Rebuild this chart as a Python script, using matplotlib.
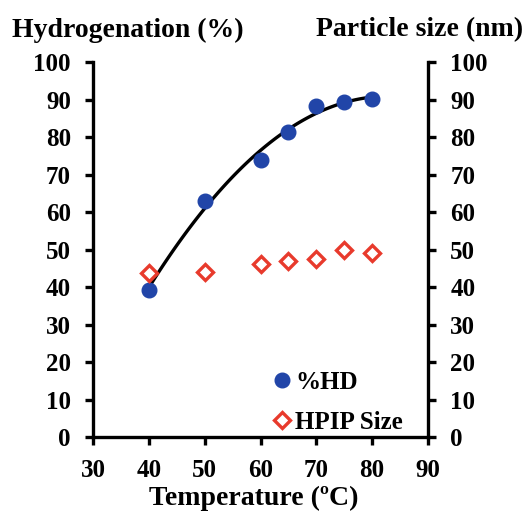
import numpy as np
import matplotlib
matplotlib.use("Agg")
import matplotlib.pyplot as plt

plt.rcParams['font.family'] = ['Liberation Serif', 'DejaVu Serif']
plt.rcParams['font.weight'] = 'bold'

# temperature (C) and measured values
temp = [40, 50, 60, 65, 70, 75, 80]
hd = [39.3, 63.0, 74.0, 81.4, 88.3, 89.3, 90.2]
size = [43.8, 44.1, 46.1, 47.0, 47.5, 49.9, 49.0]

xticks = [30, 40, 50, 60, 70, 80, 90]
yticks = list(range(0, 101, 10))

blue = '#2145a8'
red = '#e83a2c'

fig = plt.figure(figsize=(5.24, 5.17), dpi=100)
ax = fig.add_axes([0.1775, 0.1547, 0.6393, 0.7253])

# second order trendline through %HD
coef = np.polyfit(temp, hd, 2)
xs = np.linspace(temp[0], temp[-1], 100)
ax.plot(xs, np.polyval(coef, xs), color='black', lw=2.4, zorder=2)

ax.plot(temp, hd, 'o', color=blue, ms=10.5, label='%HD', zorder=3)
ax.plot(temp, size, 'D', mfc='none', mec=red, mew=2.4, ms=8,
        label='HPIP Size', zorder=3)

ax.set_xlim(30, 90)
ax.set_ylim(0, 100)
ax.set_xticks(xticks)
ax.set_yticks(yticks)
ax.spines['top'].set_visible(False)
for s in ['left', 'right', 'bottom']:
    ax.spines[s].set_linewidth(2.4)
ax.tick_params(axis='both', direction='out', length=6, width=2.4,
               labelsize=18)
ax.tick_params(axis='y', right=True, labelright=True, pad=10)
ax.tick_params(axis='x', pad=10)

leg = ax.legend(loc='lower left', bbox_to_anchor=(0.476, -0.038), frameon=False,
                fontsize=18, handletextpad=0.0, labelspacing=0.68,
                handlelength=1.0, borderpad=0.2)

fig.text(0.022, 0.942, 'Hydrogenation (%)', fontsize=20, fontweight='bold',
         ha='left', va='center')
fig.text(0.998, 0.942, 'Particle size (nm)', fontsize=20, fontweight='bold',
         ha='right', va='center')
fig.text(0.485, 0.035, 'Temperature (ºC)', fontsize=20, fontweight='bold',
         ha='center', va='center')

fig.savefig('out.png', dpi=100)
